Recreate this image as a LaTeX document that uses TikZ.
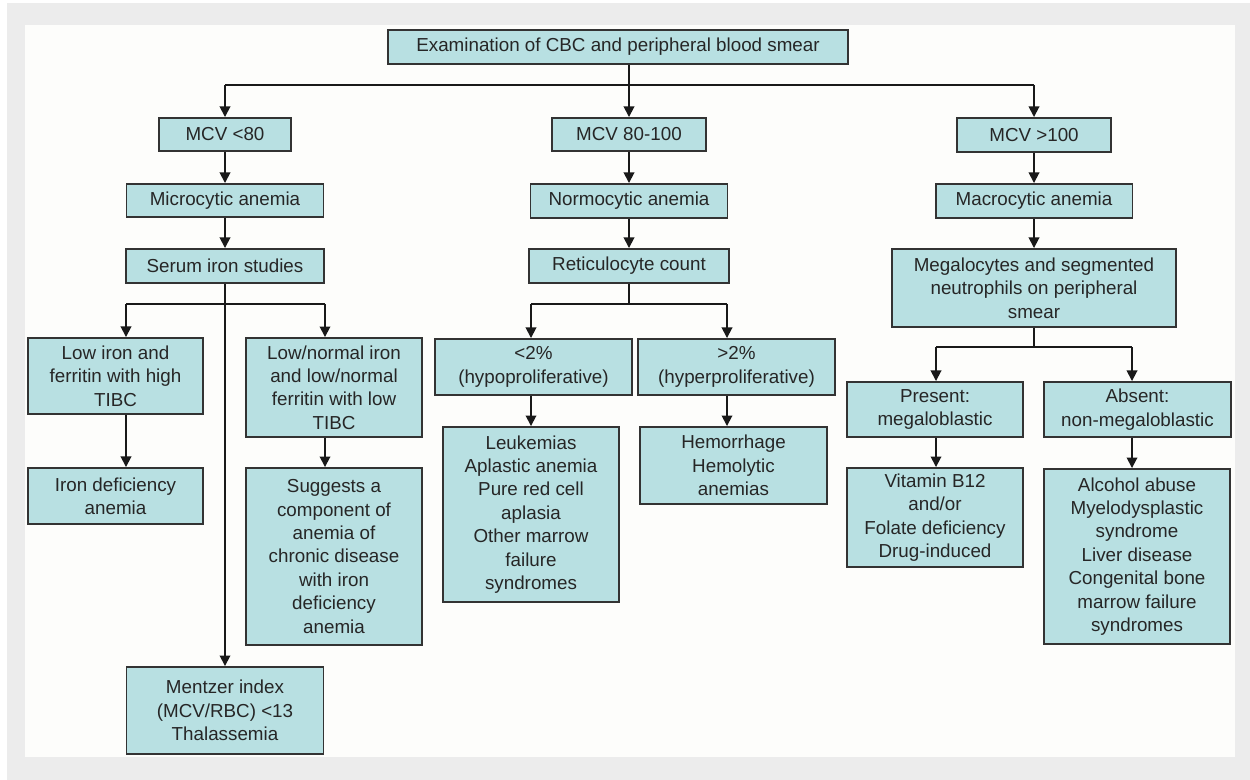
\documentclass[tikz,border=0pt]{standalone}
\usepackage{fontspec}
\setmainfont{Liberation Sans}
\usepackage{tikz}
\usetikzlibrary{arrows.meta,calc,positioning}
\definecolor{boxcyan}{RGB}{184,224,226}
\definecolor{framegray}{RGB}{236,236,236}
\definecolor{paper}{RGB}{253,253,251}

\begin{document}
\begin{tikzpicture}[% one unit is one pixel of the chart, y grows downwards
		x=0.02cm, y=-0.02cm,
		every node/.style={
			align=center,		% use this so that the "\\" for line break works
			inner sep=0pt,
			text=black!85,
			font=\fontsize{10.7}{13.3}\selectfont
		},
		stage/.style={rectangle,draw=black!80,line width=1.1pt,fill=boxcyan},
		link/.style={draw=black!90,line width=1pt},
		arr/.style={link,-{Triangle[length=6pt,width=6pt]}}
	]
	% frame
	\useasboundingbox (0,0) rectangle (1250,780);
	\fill[framegray] (7,3) rectangle (1250,780);
	\fill[paper] (25,25) rectangle (1235,757);

	% boxes
	\node[stage,minimum width=9.2cm,minimum height=0.68cm](exam) at (618,47) {Examination of CBC and peripheral blood smear};
	\node[stage,minimum width=2.64cm,minimum height=0.66cm](mcvlow) at (225,134.5) {MCV <80};
	\node[stage,minimum width=3.08cm,minimum height=0.66cm](mcvnorm) at (629,134.5) {MCV 80-100};
	\node[stage,minimum width=3.08cm,minimum height=0.68cm](mcvhigh) at (1034,135) {MCV >100};
	\node[stage,minimum width=3.94cm,minimum height=0.66cm](micro) at (225,200.5) {Microcytic anemia};
	\node[stage,minimum width=3.94cm,minimum height=0.68cm](normo) at (629,201) {Normocytic anemia};
	\node[stage,minimum width=3.94cm,minimum height=0.68cm](macro) at (1034,201) {Macrocytic anemia};
	\node[stage,minimum width=3.96cm,minimum height=0.68cm](serum) at (225,266) {Serum iron studies};
	\node[stage,minimum width=4cm,minimum height=0.68cm](retic) at (629,266) {Reticulocyte count};
	\node[stage,minimum width=5.68cm,minimum height=1.56cm](megalo) at (1034,288) {Megalocytes and segmented\\neutrophils on peripheral\\smear};
	\node[stage,minimum width=3.5cm,minimum height=1.52cm](lowiron) at (115.5,376) {Low iron and\\ferritin with high\\TIBC};
	\node[stage,minimum width=3.52cm,minimum height=1.98cm](lownorm) at (334,387.5) {Low/normal iron\\and low/normal\\ferritin with low\\TIBC};
	\node[stage,minimum width=3.94cm,minimum height=1.12cm](hypo) at (533.5,367) {<2\%\\(hypoproliferative)};
	\node[stage,minimum width=3.94cm,minimum height=1.12cm](hyper) at (736.5,367) {>2\%\\(hyperproliferative)};
	\node[stage,minimum width=3.52cm,minimum height=1.1cm](present) at (935,409.5) {Present:\\megaloblastic};
	\node[stage,minimum width=3.74cm,minimum height=1.1cm](absent) at (1137.5,409.5) {Absent:\\non-megaloblastic};
	\node[stage,minimum width=3.5cm,minimum height=1.12cm](irondef) at (115.5,496) {Iron deficiency\\anemia};
	\node[stage,minimum width=3.52cm,minimum height=3.54cm](suggests) at (334,556.5) {Suggests a\\component of\\anemia of\\chronic disease\\with iron\\deficiency\\anemia};
	\node[stage,minimum width=3.52cm,minimum height=3.5cm](leuk) at (531,514.5) {Leukemias\\Aplastic anemia\\Pure red cell\\aplasia\\Other marrow\\failure\\syndromes};
	\node[stage,minimum width=3.74cm,minimum height=1.54cm](hemo) at (733.5,465.5) {Hemorrhage\\Hemolytic\\anemias};
	\node[stage,minimum width=3.52cm,minimum height=1.98cm](vitb) at (935,517.5) {Vitamin B12\\and/or\\Folate deficiency\\Drug-induced};
	\node[stage,minimum width=3.72cm,minimum height=3.5cm](alcohol) at (1137,556.5) {Alcohol abuse\\Myelodysplastic\\syndrome\\Liver disease\\Congenital bone\\marrow failure\\syndromes};
	\node[stage,minimum width=3.94cm,minimum height=1.74cm](mentzer) at (225,710.5) {Mentzer index\\(MCV/RBC) <13\\Thalassemia};

	% branch points
	\coordinate (busL) at (225,85);
	\coordinate (busR) at (1034,85);
	\coordinate (sbL) at (126,304);
	\coordinate (sbR) at (325,304);
	\coordinate (rbL) at (531,304);
	\coordinate (rbR) at (727,304);
	\coordinate (mbL) at (936,347);
	\coordinate (mbR) at (1132,347);

	% connectors
	\draw[link] (busL) -- (busR);
	\draw[arr] (exam.south -| mcvnorm) -- (mcvnorm);
	\draw[arr] (busL) -- (busL |- mcvlow.north);
	\draw[arr] (busR) -- (busR |- mcvhigh.north);
	\draw[arr] (mcvlow) -- (micro);
	\draw[arr] (micro) -- (serum);
	\draw[arr] (mcvnorm) -- (normo);
	\draw[arr] (normo) -- (retic);
	\draw[arr] (mcvhigh) -- (macro);
	\draw[arr] (macro) -- (megalo);

	\draw[link] (sbL) -- (sbR);
	\draw[arr] (serum) -- (mentzer);
	\draw[arr] (sbL) -- (sbL |- lowiron.north);
	\draw[arr] (sbR) -- (sbR |- lownorm.north);
	\draw[arr] (sbL |- lowiron.south) -- (sbL |- irondef.north);
	\draw[arr] (sbR |- lownorm.south) -- (sbR |- suggests.north);

	\draw[link] (retic.south) -- (retic.south |- rbL);
	\draw[link] (rbL) -- (rbR);
	\draw[arr] (rbL) -- (rbL |- hypo.north);
	\draw[arr] (rbR) -- (rbR |- hyper.north);
	\draw[arr] (rbL |- hypo.south) -- (rbL |- leuk.north);
	\draw[arr] (rbR |- hyper.south) -- (rbR |- hemo.north);

	\draw[link] (megalo.south) -- (megalo.south |- mbL);
	\draw[link] (mbL) -- (mbR);
	\draw[arr] (mbL) -- (mbL |- present.north);
	\draw[arr] (mbR) -- (mbR |- absent.north);
	\draw[arr] (mbL |- present.south) -- (mbL |- vitb.north);
	\draw[arr] (mbR |- absent.south) -- (mbR |- alcohol.north);
\end{tikzpicture}
\end{document}
